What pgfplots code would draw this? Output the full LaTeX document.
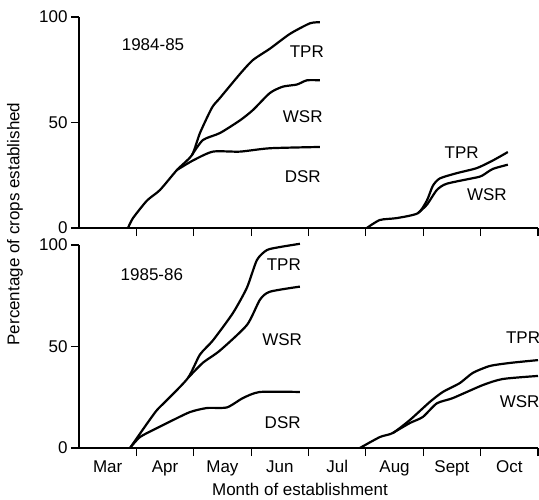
\documentclass[border=0pt]{standalone}
\usepackage{pgfplots}
\pgfplotsset{compat=1.18}
\usepackage{fontspec}
\setmainfont{Liberation Sans}
\newcommand{\lf}{\fontsize{17}{20}\selectfont}
\pgfplotsset{
  panel/.style={
    scale only axis, width=459pt, anchor=south west,
    xmin=0, xmax=8, ymin=0, ymax=100,
    axis x line=bottom, axis y line=left,
    axis line style={-, line width=1.2pt},
    tick align=outside, major tick length=8pt,
    xtick={1,2,3,4,5,6,7,8},
    xticklabel style={text opacity=0, anchor=north east, font=\tiny},
    ytick={0,50,100},
    x tick style={line width=1.2pt, black},
    y tick style={line width=1.2pt, black},
    /pgf/number format/assume math mode=true,
    yticklabel style={font=\lf},
    clip=false,
  },
  curve/.style={black, line width=2.2pt, no marks, smooth, tension=0.4},
}
\begin{document}
\begin{tikzpicture}[font=\lf]
\useasboundingbox (0,0) rectangle (539pt,-499pt);
% top panel
\begin{axis}[panel, at={(79pt,-228pt)}, height=211pt]
\addplot[curve] coordinates {(0.854,0) (0.941,4.7) (1.185,13) (1.411,18) (1.707,27.5) (1.969,34.6) (2.108,45) (2.317,57) (2.456,61.6) (2.805,73) (3.031,79.6) (3.328,85) (3.676,92) (4.024,97) (4.199,97.5)};
\addplot[curve] coordinates {(1.969,34.6) (2.160,41.7) (2.456,45) (2.805,51) (3.031,55.9) (3.328,64) (3.554,67) (3.798,68) (3.972,70) (4.199,70)};
\addplot[curve] coordinates {(1.707,27.5) (1.986,32) (2.334,36.2) (2.805,36.2) (3.328,37.8) (4.199,38.4)};
\addplot[curve] coordinates {(5.017,0) (5.244,3.8) (5.540,4.7) (5.906,7) (6.063,13) (6.167,20) (6.289,23.5) (6.585,26) (6.934,28.4) (7.213,32) (7.474,36)};
\addplot[curve] coordinates {(5.906,7) (6.063,11) (6.237,18) (6.411,21) (6.934,24) (7.038,25) (7.213,28) (7.474,30)};
\node at (axis cs:1.29,86.7) {1984-85};
\node at (axis cs:3.97,83.4) {TPR};
\node at (axis cs:3.90,52.6) {WSR};
\node at (axis cs:3.90,24.2) {DSR};
\node at (axis cs:6.67,35.5) {TPR};
\node at (axis cs:7.11,15.6) {WSR};
\end{axis}
% bottom panel
\begin{axis}[panel, at={(79pt,-448pt)}, height=203pt,
  extra x ticks={0.5,1.5,2.5,3.5,4.5,5.5,6.5,7.5},
  extra x tick labels={Mar,Apr,May,Jun,Jul,Aug,Sept,Oct},
  extra x tick style={major tick length=0pt,
    xticklabel style={yshift=-9pt, text opacity=1, anchor=north, font=\lf}}]
\addplot[curve] coordinates {(0.889,0) (1.185,12) (1.359,18.7) (1.533,23.6) (1.899,34.5) (2.108,46) (2.334,53) (2.683,66.5) (2.927,79) (3.101,92.6) (3.275,97.5) (3.502,99) (3.850,100.6)};
\addplot[curve] coordinates {(1.899,34.5) (2.160,42) (2.456,48) (2.927,60.6) (3.153,73) (3.328,77) (3.850,79.5)};
\addplot[curve] coordinates {(0.889,0) (1.063,5.4) (1.359,9.8) (1.585,13) (1.934,17.7) (2.230,19.7) (2.578,20) (2.857,24.6) (3.153,27.6) (3.850,27.6)};
\addplot[curve] coordinates {(4.895,0) (5.244,5.4) (5.470,7.4) (5.767,13.8) (6.115,22.7) (6.341,27.6) (6.638,32) (6.864,37) (7.160,40.4) (7.509,41.9) (8.0,43.3)};
\addplot[curve] coordinates {(5.470,7.4) (5.767,12.3) (5.993,15.3) (6.237,22) (6.516,24.6) (7.038,31) (7.387,34) (8.0,35.5)};
\node at (axis cs:1.27,85.2) {1985-86};
\node at (axis cs:3.57,90.1) {TPR};
\node at (axis cs:3.54,53.2) {WSR};
\node at (axis cs:3.55,12.3) {DSR};
\node at (axis cs:7.74,54.2) {TPR};
\node at (axis cs:7.68,22.7) {WSR};
\end{axis}
\node[rotate=90] at (15pt,-224pt) {Percentage of crops established};
\node at (300pt,-489pt) {Month of establishment};
\end{tikzpicture}
\end{document}
